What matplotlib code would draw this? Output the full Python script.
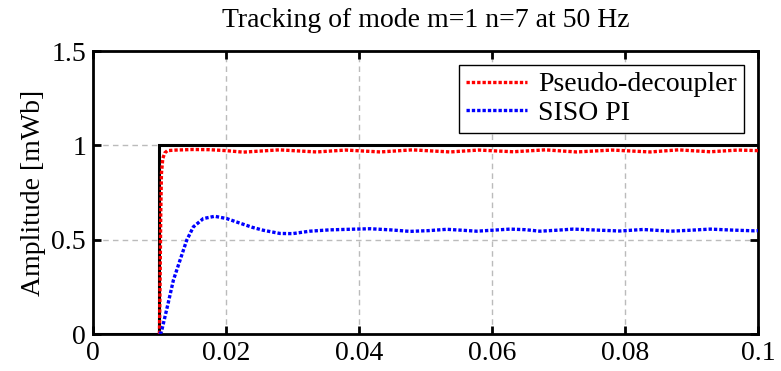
import matplotlib
matplotlib.use("Agg")
import matplotlib.pyplot as plt

# Reference step command
ref_t = [0.0, 0.01, 0.01, 0.1]
ref_y = [0.0, 0.0, 1.0, 1.0]

# Pseudo-decoupler response
pd_t = [0.0100, 0.0101, 0.0102, 0.0103, 0.0105, 0.0108, 0.0112, 0.0125, 0.0150,
        0.0175, 0.0200, 0.0226, 0.0280, 0.0336, 0.0380, 0.0432, 0.0480, 0.0537,
        0.0580, 0.0632, 0.0680, 0.0727, 0.0780, 0.0838, 0.0880, 0.0928, 0.0970, 0.1000]
pd_y = [0.000, 0.300, 0.650, 0.850, 0.930, 0.960, 0.972, 0.975, 0.978,
        0.977, 0.972, 0.964, 0.976, 0.965, 0.975, 0.965, 0.976, 0.965,
        0.975, 0.966, 0.976, 0.965, 0.975, 0.965, 0.976, 0.966, 0.975, 0.972]

# SISO PI response
pi_t = [0.0100, 0.0103, 0.0113, 0.0121, 0.0131, 0.0141, 0.0151, 0.0166, 0.0183,
        0.0201, 0.0219, 0.0240, 0.0256, 0.0281, 0.0300, 0.0326, 0.0356, 0.0385,
        0.0417, 0.0447, 0.0477, 0.0505, 0.0532, 0.0555, 0.0577, 0.0600, 0.0627,
        0.0650, 0.0672, 0.0697, 0.0722, 0.0757, 0.0792, 0.0827, 0.0868, 0.0898,
        0.0928, 0.0960, 0.0993, 0.1000]
pi_y = [0.000, 0.012, 0.162, 0.286, 0.392, 0.497, 0.568, 0.612, 0.624,
        0.612, 0.590, 0.565, 0.550, 0.533, 0.532, 0.545, 0.552, 0.555,
        0.558, 0.552, 0.544, 0.548, 0.555, 0.550, 0.545, 0.550, 0.556,
        0.553, 0.545, 0.550, 0.556, 0.551, 0.546, 0.554, 0.545, 0.550,
        0.556, 0.551, 0.547, 0.548]

x_ticks = [0, 0.02, 0.04, 0.06, 0.08, 0.1]
x_labels = ["0", "0.02", "0.04", "0.06", "0.08", "0.1"]
y_ticks = [0, 0.5, 1, 1.5]
y_labels = ["0", "0.5", "1", "1.5"]

plt.rcParams["font.family"] = ["Liberation Serif", "DejaVu Serif"]
FS = 20

fig = plt.figure(figsize=(7.81, 3.71), dpi=100)
ax = fig.add_axes([0.119, 0.0997, 0.9706 - 0.119, 0.8625 - 0.0997])

ax.plot(ref_t, ref_y, color="black", lw=2.2, solid_joinstyle="miter", zorder=2)
ax.plot(pd_t, pd_y, color="red", lw=2.4, linestyle=(0, (1, 0.6)),
        label="Pseudo-decoupler", zorder=3)
ax.plot(pi_t, pi_y, color="blue", lw=2.4, linestyle=(0, (1, 0.6)),
        label="SISO PI", zorder=3)

ax.set_xlim(0, 0.1)
ax.set_ylim(0, 1.5)
ax.set_xticks(x_ticks)
ax.set_xticklabels(x_labels)
ax.set_yticks(y_ticks)
ax.set_yticklabels(y_labels)
ax.tick_params(direction="in", length=6, width=2, labelsize=FS,
               top=True, right=True, pad=5)
for s in ax.spines.values():
    s.set_linewidth(2)

ax.grid(True, color="#bbbbbb", linestyle=(0, (4, 3)), lw=1)
ax.set_axisbelow(True)

ax.set_title("Tracking of mode m=1 n=7 at 50 Hz", fontsize=FS, pad=17)
ax.set_ylabel("Amplitude [mWb]", fontsize=FS, labelpad=4)

leg = ax.legend(loc="upper right", fontsize=FS, frameon=True, fancybox=False,
                handlelength=2.2, handletextpad=0.4, borderpad=0.25,
                labelspacing=0.12, borderaxespad=0.5)
leg.get_frame().set_edgecolor("black")
leg.get_frame().set_linewidth(1.0)
leg.get_frame().set_alpha(1)

fig.savefig("out.png", dpi=100)
